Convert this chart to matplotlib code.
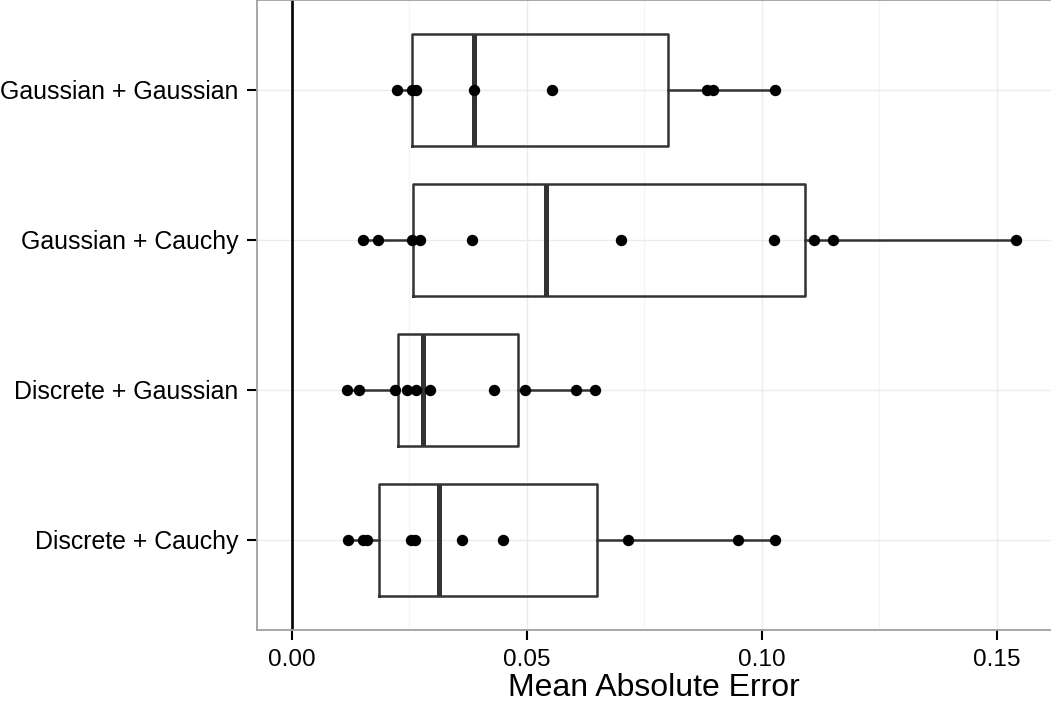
import matplotlib
matplotlib.use("Agg")
import matplotlib.pyplot as plt
from matplotlib.ticker import MultipleLocator

plt.rcParams['font.family'] = ['Liberation Sans', 'DejaVu Sans']

# DATA (bottom to top)
labels = ["Discrete + Cauchy", "Discrete + Gaussian", "Gaussian + Cauchy", "Gaussian + Gaussian"]

dc_pts = [0.0120, 0.0152, 0.0160, 0.0254, 0.0262, 0.0362, 0.0450, 0.0715, 0.0949, 0.1028]
dg_pts = [0.0118, 0.0143, 0.0219, 0.0244, 0.0264, 0.0294, 0.0431, 0.0496, 0.0605, 0.0644]
gc_pts = [0.0152, 0.0182, 0.0255, 0.0273, 0.0384, 0.0700, 0.1026, 0.1111, 0.1152, 0.1541]
gg_pts = [0.0223, 0.0255, 0.0265, 0.0387, 0.0553, 0.0883, 0.0896, 0.1028]

# box stats: q1, median, q3, whisker low, whisker high
q1 = [0.0185, 0.0226, 0.0258, 0.0256]
med = [0.0312, 0.0278, 0.0541, 0.0387]
q3 = [0.0649, 0.0480, 0.1091, 0.0800]
whislo = [0.0120, 0.0118, 0.0152, 0.0223]
whishi = [0.1028, 0.0644, 0.1541, 0.1028]

points = [dc_pts, dg_pts, gc_pts, gg_pts]

################### FIGURE
W, H = 1051, 704
fig = plt.figure(figsize=(W / 100, H / 100), dpi=100)
ax = fig.add_axes([257 / W, (H - 630) / H, (W - 257) / W, 630 / H])

stats = []
for i in range(len(labels)):
    stats.append({'q1': q1[i], 'med': med[i], 'q3': q3[i],
                  'whislo': whislo[i], 'whishi': whishi[i], 'label': labels[i]})

pos = list(range(1, len(labels) + 1))
ax.bxp(stats, positions=pos, widths=0.75, orientation='horizontal',
       showcaps=False, showfliers=False,
       boxprops=dict(color='#333333', linewidth=1.8),
       whiskerprops=dict(color='#333333', linewidth=1.8),
       medianprops=dict(color='#333333', linewidth=3.6, solid_capstyle='butt'),
       zorder=3)

for p, vals in zip(pos, points):
    ax.plot(vals, [p] * len(vals), 'o', color='black', markersize=8.2,
            markeredgewidth=0, zorder=4)

ax.axvline(0, color='black', linewidth=1.9, zorder=2)

# AXES
ax.set_xlim(-0.00745, 0.16156)
ax.set_ylim(0.4, 4.6)
ax.xaxis.set_minor_locator(MultipleLocator(0.025))
ax.set_xticks([0.0, 0.05, 0.10, 0.15])
ax.set_xticklabels(["0.00", "0.05", "0.10", "0.15"])
ax.set_yticks(pos)
ax.set_yticklabels(labels)

ax.grid(True, which='major', color='#EBEBEB', linewidth=1.0, zorder=0)
ax.grid(True, which='minor', axis='x', color='#F5F5F5', linewidth=1.0, zorder=0)
ax.set_axisbelow(True)

ax.tick_params(axis='both', which='major', colors='black',
               length=7.5, width=1.5, pad=6)
ax.tick_params(axis='y', which='major', labelsize=17.9)
ax.tick_params(axis='x', which='major', labelsize=17.6)
ax.tick_params(axis='both', which='minor', length=0)
for s in ax.spines.values():
    s.set_color('#A0A0A0')
    s.set_linewidth(1.3)
ax.spines['right'].set_visible(False)

ax.set_xlabel("Mean Absolute Error", fontsize=23, labelpad=1.5)

fig.savefig("out.png", dpi=100)
